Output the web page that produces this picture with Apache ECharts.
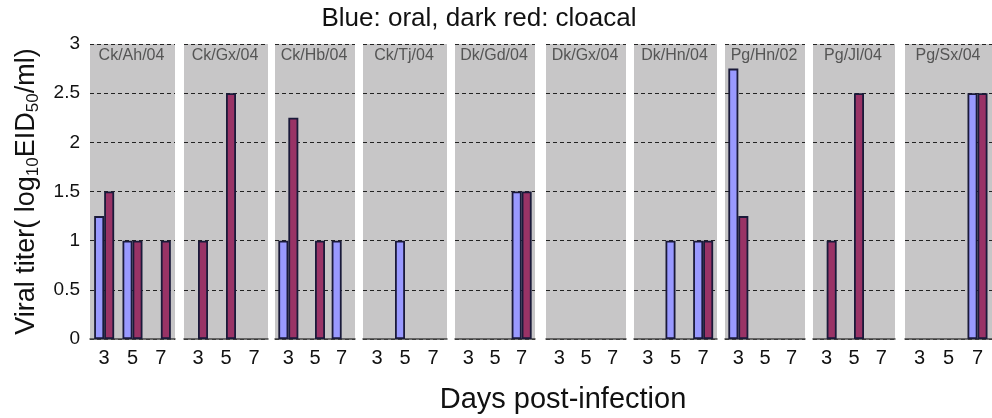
<!DOCTYPE html>
<html>
<head>
<meta charset="utf-8">
<script src="https://cdn.jsdelivr.net/npm/echarts@6/dist/echarts.min.js"></script>
<style>
  html, body { margin: 0; padding: 0; background: #fff; }
  #chart { width: 992px; height: 418px; }
</style>
</head>
<body>
<div id="chart"></div>
<script>
// 每个面板的毒株名称
const strains = ['Ck/Ah/04', 'Ck/Gx/04', 'Ck/Hb/04', 'Ck/Tj/04', 'Dk/Gd/04',
  'Dk/Gx/04', 'Dk/Hn/04', 'Pg/Hn/02', 'Pg/Jl/04', 'Pg/Sx/04']
const days = ['3', '5', '7']
const yTicks = [0, 0.5, 1, 1.5, 2, 2.5, 3]

// 口腔 (blue)
const oral = [
  [1.25, 1, null],
  [null, null, null],
  [1, null, 1],
  [null, 1, null],
  [null, null, 1.5],
  [null, null, null],
  [null, 1, 1],
  [2.75, null, null],
  [null, null, null],
  [null, null, 2.5]
]
// 泄殖腔 (dark red)
const cloacal = [
  [1.5, 1, 1],
  [1, 2.5, null],
  [2.25, 1, null],
  [null, null, null],
  [null, null, 1.5],
  [null, null, null],
  [null, null, 1],
  [1.25, null, null],
  [1, 2.5, null],
  [null, null, 2.5]
]

const lefts = [90, 184, 275, 363, 455, 546, 634, 725, 813, 905]
const widths = [85, 84, 80, 84, 80, 80, 83, 80, 82, 88]
const gridTop = 44
const gridHeight = 295
const sans = 'Liberation Sans, Arial, sans-serif'

const chart = echarts.init(document.getElementById('chart'))

const grids = []
const xAxes = []
const yAxes = []
const series = []
const labels = []
const titles = [
  {
    text: 'Blue: oral, dark red: cloacal',
    left: 474, top: 1, textAlign: 'center',
    textStyle: { fontFamily: sans, fontSize: 26, fontWeight: 'normal', color: '#111' }
  },
  {
    text: 'Days post-infection',
    left: 558, top: 380, textAlign: 'center',
    textStyle: { fontFamily: sans, fontSize: 29, fontWeight: 'normal', color: '#111' }
  }
]

strains.forEach((name, i) => {
  grids.push({
    left: lefts[i], top: gridTop, width: widths[i], height: gridHeight,
    show: true, backgroundColor: '#c7c6c7', borderWidth: 0
  })
  xAxes.push({
    type: 'category', gridIndex: i, data: days,
    axisTick: { show: false },
    axisLine: { lineStyle: { color: '#444', width: 1.5 } },
    axisLabel: { margin: 9, fontSize: 20, color: '#111', fontFamily: sans }
  })
  yAxes.push({
    type: 'value', gridIndex: i, min: 0, max: 3, interval: 0.5,
    axisLine: { show: false },
    axisTick: { show: false },
    axisLabel: {
      show: i === 0, margin: 10, fontSize: 19, color: '#111', fontFamily: sans,
      formatter: v => (yTicks.indexOf(v) >= 0 ? String(v) : '')
    },
    splitLine: { show: true, lineStyle: { color: '#222', type: [4, 3], width: 1 } },
    name: i === 0 ? 'Viral titer( log{s|10}EID{s|50}/ml)' : '',
    nameLocation: 'middle', nameRotate: 90, nameGap: 48,
    nameTextStyle: {
      fontFamily: sans, fontSize: 27, color: '#111',
      rich: { s: { fontSize: 17, verticalAlign: 'bottom', padding: [14, 0, 0, 0], fontFamily: sans } }
    }
  })
  // 面板标题
  labels.push({
    type: 'text',
    x: lefts[i] + widths[i] / 2 - 1,
    y: gridTop + 4,
    style: {
      text: name, textAlign: 'center', fill: '#555',
      font: '16px ' + sans
    }
  })
  series.push({
    type: 'bar', xAxisIndex: i, yAxisIndex: i,
    data: oral[i], barWidth: 10, barGap: '0%',
    itemStyle: { color: '#9999ff', borderColor: '#1a1a3a', borderWidth: 1.8 }
  })
  series.push({
    type: 'bar', xAxisIndex: i, yAxisIndex: i,
    data: cloacal[i], barWidth: 10, barGap: '0%',
    itemStyle: { color: '#993366', borderColor: '#1a1a3a', borderWidth: 1.8 }
  })
})

chart.setOption({
  animation: false,
  title: titles,
  grid: grids,
  xAxis: xAxes,
  yAxis: yAxes,
  series: series,
  graphic: labels
})
</script>
</body>
</html>
